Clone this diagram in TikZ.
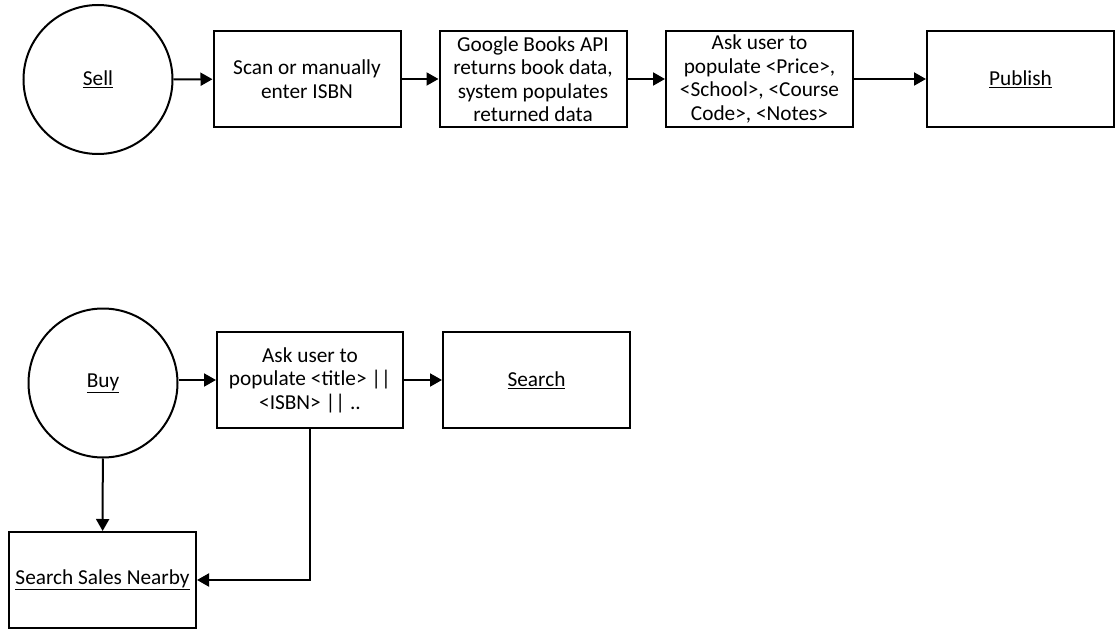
\documentclass[tikz,border=0pt]{standalone}
\usepackage{fontspec}
\setmainfont{Carlito}
\usetikzlibrary{arrows.meta}
\begin{document}
\begin{tikzpicture}[x=1pt,y=-1pt,
  every node/.style={font=\fontsize{21.3}{23.5}\selectfont, align=center, inner sep=0pt},
  stepbox/.style={draw, line width=2pt, minimum width=187pt, minimum height=96pt},
  startcircle/.style={draw, circle, line width=2pt, minimum size=149pt},
  flow/.style={line width=2pt, -{Triangle[length=12pt,width=13pt]}}]
\useasboundingbox (0,0) rectangle (1119,639);

% selling flow
\node[startcircle] (sell) at (98,79.5) {\underline{Sell}};
\node[stepbox] (scan) at (307,79) {Scan or manually\\enter ISBN};
\node[stepbox] (api) at (533,79) {Google Books API\\returns book data,\\system populates\\returned data};
\node[stepbox] (details) at (759.5,79) {Ask user to\\populate <Price>,\\<School>, <Course\\Code>, <Notes>};
\node[stepbox] (publish) at (1020.5,79) {\underline{Publish}};

\draw[flow] (sell) -- (scan);
\draw[flow] (scan) -- (api);
\draw[flow] (api) -- (details);
\draw[flow] (details) -- (publish);

% buying flow
\node[startcircle] (buy) at (103,383) {\underline{Buy}};
\node[stepbox, minimum width=186pt] (query) at (310,380) {Ask user to\\populate <title> ||\\<ISBN> || ..};
\node[stepbox] (search) at (536.5,380) {\underline{Search}};
\node[stepbox] (nearby) at (102.5,580) {\underline{Search Sales Nearby}};

\draw[flow] (buy.east |- query) -- (query);
\draw[flow] (query) -- (search);
\draw[flow] (buy) -- (nearby);
\draw[flow] (query.south) |- (nearby.east);
\end{tikzpicture}
\end{document}
